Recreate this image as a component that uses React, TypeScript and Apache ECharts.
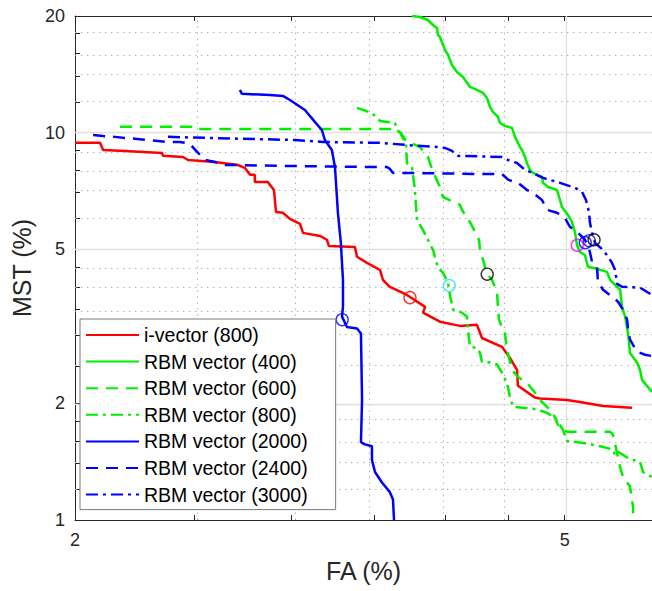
import React, { useEffect, useRef } from "react";
import * as echarts from "echarts";

// ---------- data (FA %, MST %) ----------
const IVEC_800_FA = [2.0, 2.096, 2.108, 2.196, 2.354, 2.358, 2.448, 2.471, 2.598, 2.713, 2.748, 2.775, 2.8, 2.8, 2.869, 2.902, 2.913, 2.951, 2.99, 3.047, 3.064, 3.163, 3.204, 3.216, 3.377, 3.39, 3.454, 3.539, 3.558, 3.605, 3.722, 3.851, 3.835, 3.959, 4.11, 4.243, 4.283, 4.446, 4.513, 4.573, 4.581, 4.73, 4.774, 5.022, 5.174, 5.372, 5.671];
const IVEC_800_MST = [9.41, 9.41, 9.02, 8.97, 8.86, 8.71, 8.65, 8.5, 8.4, 8.25, 8.11, 7.78, 7.78, 7.46, 7.46, 7.11, 6.24, 6.21, 5.99, 5.81, 5.51, 5.41, 5.29, 5.1, 5.07, 4.78, 4.61, 4.42, 4.17, 4.0, 3.81, 3.55, 3.43, 3.25, 3.17, 3.19, 2.95, 2.8, 2.62, 2.44, 2.22, 2.07, 2.06, 2.04, 2.01, 1.97, 1.95];

const RBM_400_FA = [3.757, 3.814, 3.871, 3.908, 3.937, 3.944, 3.959, 3.996, 4.019, 4.049, 4.087, 4.133, 4.188, 4.243, 4.291, 4.323, 4.347, 4.372, 4.413, 4.43, 4.471, 4.53, 4.556, 4.598, 4.616, 4.642, 4.659, 4.685, 4.712, 4.792, 4.801, 4.846, 4.928, 4.956, 4.974, 5.031, 5.068, 5.098, 5.116, 5.145, 5.193, 5.222, 5.272, 5.412, 5.443, 5.515, 5.546, 5.566, 5.598, 5.629, 5.65, 5.725, 5.757, 5.778, 5.887];
const RBM_400_MST = [20.0, 19.88, 19.53, 18.96, 18.62, 17.87, 17.66, 16.35, 15.87, 14.94, 14.34, 13.92, 13.12, 12.89, 12.66, 12.29, 11.65, 11.31, 10.98, 10.59, 10.41, 10.28, 9.75, 9.18, 9.02, 8.65, 8.35, 8.01, 7.87, 7.69, 7.42, 7.24, 7.11, 6.7, 6.43, 6.13, 5.88, 5.51, 5.13, 4.92, 4.83, 4.5, 4.48, 4.37, 4.17, 4.0, 3.93, 3.55, 3.35, 3.04, 2.7, 2.55, 2.44, 2.3, 2.14];

const RBM_600_FA = [2.176, 2.489, 2.5, 3.646, 3.68, 3.715, 3.814, 3.871, 3.908, 3.959, 3.981, 4.11, 4.125, 4.188, 4.211, 4.259, 4.267, 4.291, 4.323, 4.364, 4.405, 4.413, 4.421, 4.446, 4.471, 4.488, 4.53, 4.581, 4.659, 4.73, 4.774, 4.837, 4.891, 4.937, 4.984, 5.022, 5.292, 5.443, 5.473, 5.546, 5.577, 5.65, 5.682, 5.682];
const RBM_600_MST = [10.35, 10.35, 10.22, 10.22, 9.98, 9.52, 9.18, 8.65, 7.92, 7.24, 6.82, 6.51, 6.32, 5.88, 5.68, 5.29, 4.98, 4.69, 4.32, 4.17, 3.86, 3.55, 3.29, 3.15, 3.04, 2.75, 2.44, 2.34, 2.26, 2.13, 2.04, 1.96, 1.89, 1.76, 1.71, 1.69, 1.69, 1.69, 1.66, 1.37, 1.29, 1.22, 1.08, 1.0];

const RBM_800_FA = [3.39, 3.486, 3.539, 3.639, 3.653, 3.675, 3.708, 3.715, 3.722, 3.757, 3.778, 3.792, 3.835, 3.908, 3.944, 3.981, 4.019, 4.036, 4.057, 4.125, 4.164, 4.172, 4.188, 4.243, 4.267, 4.283, 4.347, 4.405, 4.446, 4.488, 4.513, 4.539, 4.625, 4.747, 4.837, 4.91, 4.984, 5.022, 5.174, 5.342, 5.473, 5.494, 5.525, 5.619, 5.757, 5.789, 5.887];
const RBM_800_MST = [11.58, 11.24, 10.72, 10.59, 10.16, 9.98, 9.46, 9.41, 8.35, 8.15, 7.11, 5.95, 5.61, 4.98, 4.48, 4.35, 4.1, 3.77, 3.49, 3.43, 3.35, 3.1, 2.8, 2.78, 2.7, 2.56, 2.55, 2.52, 2.4, 2.26, 2.08, 1.96, 1.95, 1.93, 1.89, 1.84, 1.71, 1.6, 1.58, 1.55, 1.52, 1.47, 1.5, 1.45, 1.41, 1.33, 1.29];

const RBM_2000_FA = [2.723, 2.733, 2.88, 2.951, 2.99, 3.075, 3.133, 3.174, 3.192, 3.234, 3.253, 3.271, 3.289, 3.302, 3.302, 3.296, 3.327, 3.39, 3.415, 3.422, 3.415, 3.435, 3.486, 3.486, 3.506, 3.552, 3.605, 3.626, 3.633];
const RBM_2000_MST = [12.89, 12.59, 12.51, 12.44, 12.14, 11.44, 10.66, 10.16, 9.57, 9.02, 8.15, 6.21, 5.19, 4.17, 3.55, 3.35, 3.15, 3.12, 3.03, 2.04, 1.59, 1.57, 1.55, 1.43, 1.33, 1.25, 1.18, 1.13, 1.0];

const RBM_2400_FA = [2.069, 2.108, 2.155, 2.196, 2.246, 2.288, 2.336, 2.376, 2.434, 2.457, 2.48, 2.513, 2.551, 2.598, 2.633, 2.698, 2.979, 3.493, 3.585, 3.605, 3.626, 3.722, 4.267, 4.446, 4.5, 4.581, 4.659, 4.712, 4.792, 4.837, 4.928, 5.0, 5.05, 5.116, 5.193, 5.232, 5.262, 5.311, 5.321, 5.372, 5.463, 5.525, 5.577, 5.619, 5.629, 5.65, 5.725, 5.811, 5.887];
const RBM_2400_MST = [9.86, 9.8, 9.75, 9.69, 9.63, 9.57, 9.52, 9.46, 9.46, 9.41, 9.35, 8.92, 8.5, 8.4, 8.25, 8.25, 8.2, 8.15, 8.15, 8.06, 7.87, 7.87, 7.82, 7.82, 7.55, 7.42, 7.11, 6.99, 6.7, 6.32, 6.21, 6.03, 5.71, 5.55, 5.29, 5.04, 4.64, 4.5, 4.12, 3.93, 3.77, 3.66, 3.49, 3.29, 3.1, 2.92, 2.72, 2.67, 2.65];

const RBM_3000_FA = [2.38, 2.672, 3.018, 3.18, 3.539, 3.722, 3.937, 3.996, 4.049, 4.095, 4.446, 4.513, 4.573, 4.642, 4.685, 4.801, 4.956, 5.098, 5.165, 5.203, 5.232, 5.242, 5.262, 5.292, 5.372, 5.423, 5.463, 5.494, 5.515, 5.566, 5.757, 5.887];
const RBM_3000_MST = [9.75, 9.66, 9.57, 9.46, 9.41, 9.29, 9.18, 9.13, 8.97, 8.71, 8.65, 8.45, 8.35, 8.01, 7.92, 7.64, 7.42, 7.2, 7.03, 6.7, 6.24, 5.85, 5.51, 5.19, 4.98, 4.78, 4.61, 4.42, 4.07, 4.0, 3.98, 3.81];

// operating-point circles
const MARKER_FA = [3.743, 3.297, 4.029, 4.325, 5.119, 5.196, 5.235, 5.282];
const MARKER_MST = [3.75, 3.29, 4.03, 4.31, 5.12, 5.2, 5.26, 5.29];
const MARKER_COLORS = ["#ff0000", "#0000ff", "#22e5e5", "#000000", "#ff00ff", "#0000ff", "#0000ff", "#000000"];

// axes
const X_MIN = 2;
const X_MAX = 5.887;
const Y_MIN = 1;
const Y_MAX = 20;
const X_TICK_LABELS = [2, 5];
const X_MINOR = [2.5, 3, 3.5, 4, 4.5];
const X_MAJOR_GRID = [5];
const Y_TICK_LABELS = [1, 2, 5, 10, 20];
const Y_MINOR = [1.2, 1.4, 1.6, 1.8, 2.5, 3, 3.5, 4, 4.5, 6, 7, 8, 9, 12, 14, 16, 18];
const Y_MAJOR_GRID = [2, 5, 10];

const FONT = "'Liberation Sans', Arial, Helvetica, sans-serif";
const L = (v: number) => Math.log10(v);
const fmt = (v: number) => String(+Math.pow(10, v).toFixed(3));

const SERIES_DEFS = [
  { name: "i-vector (800)", fa: IVEC_800_FA, mst: IVEC_800_MST, color: "#ff0000", type: "solid" as any },
  { name: "RBM vector (400)", fa: RBM_400_FA, mst: RBM_400_MST, color: "#00ee00", type: "solid" as any },
  { name: "RBM vector (600)", fa: RBM_600_FA, mst: RBM_600_MST, color: "#00ee00", type: [12, 8] as any },
  { name: "RBM vector (800)", fa: RBM_800_FA, mst: RBM_800_MST, color: "#00ee00", type: [12, 5, 3, 5] as any },
  { name: "RBM vector (2000)", fa: RBM_2000_FA, mst: RBM_2000_MST, color: "#0000ff", type: "solid" as any },
  { name: "RBM vector (2400)", fa: RBM_2400_FA, mst: RBM_2400_MST, color: "#0000ff", type: [12, 8] as any },
  { name: "RBM vector (3000)", fa: RBM_3000_FA, mst: RBM_3000_MST, color: "#0000ff", type: [12, 5, 3, 5] as any },
];

export default function App() {
  const ref = useRef<HTMLDivElement>(null);

  useEffect(() => {
    document.body.style.margin = "0";
    if (!ref.current) return;
    const chart = echarts.init(ref.current, undefined, { renderer: "svg" });

    const minorStyle = { type: [1.5, 4.5] as any, color: "#b4b4b4", width: 1 };
    const majorStyle = { type: "solid" as any, color: "#e0e0e0", width: 1.3 };
    const gridLines = [
      ...X_MINOR.map((v) => ({ xAxis: L(v), lineStyle: minorStyle })),
      ...X_MAJOR_GRID.map((v) => ({ xAxis: L(v), lineStyle: majorStyle })),
      ...Y_MINOR.map((v) => ({ yAxis: L(v), lineStyle: minorStyle })),
      ...Y_MAJOR_GRID.map((v) => ({ yAxis: L(v), lineStyle: majorStyle })),
    ];

    const xTicks = [X_MIN, ...X_MINOR, ...X_MAJOR_GRID].map(L);
    const yTicks = [...Y_TICK_LABELS, ...Y_MINOR].map(L);

    const axisLine = { show: true, lineStyle: { color: "#262626", width: 1 } };

    const lineSeries = SERIES_DEFS.map((s) => ({
      name: s.name,
      type: "line",
      data: s.fa.map((x, i) => [L(x), L(s.mst[i])]),
      symbol: "none",
      showSymbol: false,
      color: s.color,
      lineStyle: { color: s.color, width: 2.5, type: s.type },
      z: 3,
      silent: true,
    }));

    const option: any = {
      animation: false,
      textStyle: { fontFamily: FONT },
      grid: { left: 75, top: 16, right: 0, bottom: 71, containLabel: false },
      legend: {
        data: SERIES_DEFS.map((s) => s.name),
        orient: "vertical",
        left: 80,
        top: 319,
        itemWidth: 53,
        itemHeight: 14,
        itemGap: 6.6,
        padding: [6, 28, 5, 5],
        borderColor: "#7a7a7a",
        borderWidth: 1,
        backgroundColor: "#ffffff",
        selectedMode: false,
        itemStyle: { opacity: 0 },
        textStyle: { fontSize: 19.5, color: "#000000", fontFamily: FONT },
        z: 10,
      },
      xAxis: [
        {
          type: "value",
          min: L(X_MIN),
          max: L(X_MAX),
          position: "bottom",
          name: "FA (%)",
          nameLocation: "middle",
          nameGap: 38,
          nameTextStyle: { fontSize: 25, color: "#262626", fontFamily: FONT },
          axisLine,
          axisTick: { show: true, inside: true, length: 5, customValues: xTicks, lineStyle: { color: "#262626" } },
          axisLabel: { show: true, customValues: X_TICK_LABELS.map(L), formatter: fmt, fontSize: 18, color: "#262626", margin: 11, fontFamily: FONT },
          splitLine: { show: false },
        },
        {
          type: "value",
          min: L(X_MIN),
          max: L(X_MAX),
          position: "top",
          axisLine,
          axisTick: { show: true, inside: true, length: 5, customValues: xTicks, lineStyle: { color: "#262626" } },
          axisLabel: { show: false },
          splitLine: { show: false },
        },
      ],
      yAxis: [
        {
          type: "value",
          min: L(Y_MIN),
          max: L(Y_MAX),
          position: "left",
          name: "MST (%)",
          nameLocation: "middle",
          nameGap: 40,
          nameTextStyle: { fontSize: 25, color: "#262626", fontFamily: FONT },
          axisLine,
          axisTick: { show: true, inside: true, length: 5, customValues: yTicks, lineStyle: { color: "#262626" } },
          axisLabel: { show: true, customValues: Y_TICK_LABELS.map(L), formatter: fmt, fontSize: 18, color: "#262626", margin: 10, fontFamily: FONT },
          splitLine: { show: false },
        },
      ],
      series: [
        {
          name: "__grid",
          type: "line",
          data: [],
          z: 1,
          silent: true,
          markLine: {
            silent: true,
            symbol: ["none", "none"],
            label: { show: false },
            emphasis: { disabled: true },
            animation: false,
            z: 1,
            data: gridLines,
          },
        },
        ...lineSeries,
        {
          name: "__markers",
          type: "scatter",
          symbol: "circle",
          symbolSize: 12,
          z: 4,
          silent: true,
          data: MARKER_FA.map((x, i) => ({
            value: [L(x), L(MARKER_MST[i])],
            itemStyle: { color: "rgba(0,0,0,0)", borderColor: MARKER_COLORS[i], borderWidth: 1.4 },
          })),
        },
      ],
    };

    chart.setOption(option);
    return () => chart.dispose();
  }, []);

  return <div ref={ref} style={{ width: 652, height: 591 }} />;
}
